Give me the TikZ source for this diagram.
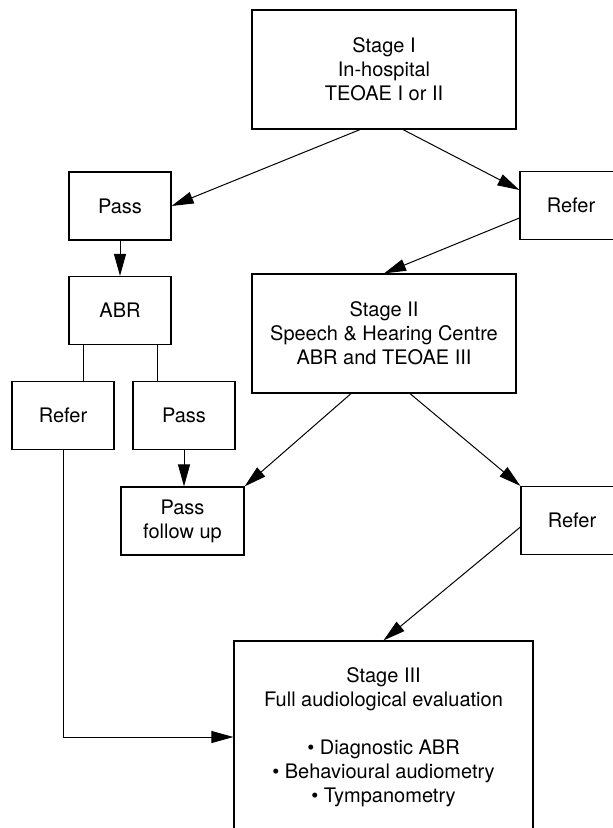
\documentclass[tikz,border=0pt]{standalone}
\usepackage{fontspec}
\setmainfont{TeX Gyre Heros}
\usetikzlibrary{positioning,arrows.meta}
\tikzset{
    box/.style={draw, rectangle, line width=0.6pt, minimum width=51pt, minimum height=34pt, align=center, inner sep=2pt},
    stagebox/.style={box, minimum width=132pt, minimum height=59.5pt},
    flow/.style={line width=0.5pt, -{Triangle[length=11pt,width=6pt]}},
    plain/.style={line width=0.5pt}
}

\begin{document}
\begin{tikzpicture}[x=0.5pt, y=-0.5pt, every node/.style={font=\fontsize{10}{12}\selectfont}]
    \clip (0,0) rectangle (613,828);

    % Stage I
    \node[stagebox] (S1) at (384,69.5) {Stage I\\In-hospital\\TEOAE I or II};
    \node[box] (P1) at (120,206) {Pass};
    \node[box] (R1) at (571,205.5) {Refer};

    % ABR branch
    \node[box] (ABR) at (120,310.5) {ABR};
    \node[box] (R2) at (63,415.5) {Refer};
    \node[box] (P2) at (184,415.5) {Pass};

    % Stage II
    \node[stagebox] (S2) at (384,333.5) {Stage II\\Speech \& Hearing Centre\\ABR and TEOAE III};
    \node[box, minimum width=61.5pt] (PF) at (182.5,521) {Pass\\follow up};
    \node[box] (R3) at (572,520.5) {Refer};

    % Stage III
    \node[box, minimum width=149.5pt, minimum height=96pt] (S3) at (383.5,737)
        {Stage III\\Full audiological evaluation\\[12pt]\textbullet{} Diagnostic ABR\\\textbullet{} Behavioural audiometry\\\textbullet{} Tympanometry};

    % Arrows
    \draw[flow] ([xshift=-12pt]S1.south) -- (P1.east);
    \draw[flow] ([xshift=9.5pt]S1.south) -- ([yshift=7.75pt]R1.west);
    \draw[flow] (P1) -- (ABR);
    \draw[flow] ([yshift=-6.25pt]R1.west) -- (S2.north);
    \draw[plain] ([xshift=-18.5pt]ABR.south) -- ([xshift=-18.5pt]ABR.south |- R2.north);
    \draw[plain] ([xshift=18.5pt]ABR.south) -- ([xshift=18.5pt]ABR.south |- P2.north);
    \draw[flow] (P2.south) -- (P2.south |- PF.north);
    \draw[flow] ([xshift=-16.5pt]S2.south) -- (PF.north east);
    \draw[flow] ([xshift=13pt]S2.south) -- (R3.north west);
    \draw[flow] ([yshift=-3.25pt]R3.west) -- (S3.north);
    \draw[flow] (R2.south) |- (S3.west);
\end{tikzpicture}
\end{document}
